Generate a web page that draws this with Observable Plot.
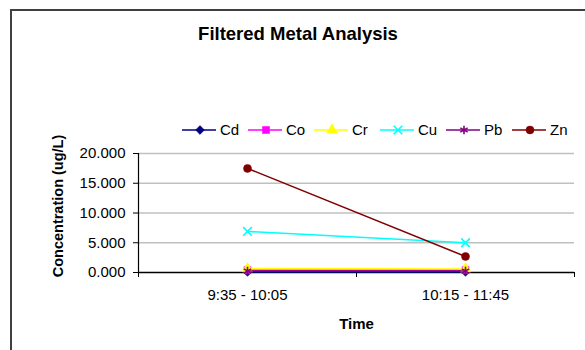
<!DOCTYPE html>
<html>
<head>
<meta charset="utf-8">
<script src="https://cdn.jsdelivr.net/npm/d3@7"></script>
<script src="https://cdn.jsdelivr.net/npm/@observablehq/plot@0.6"></script>
<style>
  html, body { margin: 0; padding: 0; background: #fff; overflow: hidden; }
  #wrap { position: relative; width: 585px; height: 350px; font-family: "Liberation Sans", Arial, sans-serif; }
  #frame { position: absolute; left: 10px; top: 9px; width: 700px; height: 500px; border: 2px solid #404040; box-sizing: border-box; }
  #title { position: absolute; left: 0; width: 596px; top: 23px; text-align: center; font-weight: bold; font-size: 18.5px; color: #000; }
  #legend { position: absolute; top: 121px; left: 182px; display: flex; font-size: 15px; color: #000; }
  .item { display: flex; align-items: center; width: 66px; }
  .item svg { display: block; }
  #chart { position: absolute; left: 0; top: 0; }
</style>
</head>
<body>
<div id="wrap">
  <div id="frame"></div>
  <div id="chart"></div>
  <div id="title">Filtered Metal Analysis</div>
  <div id="legend"></div>
</div>
<script>
const categories = ["9:35 - 10:05", "10:15 - 11:45"];
const metals = ["Cd", "Co", "Cr", "Cu", "Pb", "Zn"];
const Cd = [0.1, 0.1];
const Co = [0.4, 0.4];
const Cr = [0.65, 0.6];
const Cu = [6.9, 5.0];
const Pb = [0.25, 0.25];
const Zn = [17.5, 2.7];
const yTicks = [0, 5, 10, 15, 20];

const seriesValues = {Cd, Co, Cr, Cu, Pb, Zn};
const colors = {Cd: "#000080", Co: "#FF00FF", Cr: "#FFFF00", Cu: "#00FFFF", Pb: "#800080", Zn: "#800000"};
const symbols = {Cd: "diamond2", Co: "square", Cr: "triangle", Cu: "times", Pb: "asterisk", Zn: "circle"};
const filled = {Cd: true, Co: true, Cr: true, Cu: false, Pb: false, Zn: true};
const d3sym = {diamond2: d3.symbolDiamond2, square: d3.symbolSquare, triangle: d3.symbolTriangle, times: d3.symbolTimes, asterisk: d3.symbolAsterisk, circle: d3.symbolCircle};

const data = [];
metals.forEach(m => seriesValues[m].forEach((v, i) => data.push({metal: m, pos: i + 0.5, cat: categories[i], value: v})));

const marks = [
  Plot.ruleY(yTicks.filter(d => d > 0), {stroke: "#c0c0c0", strokeWidth: 1.5}),
  Plot.axisY({ticks: yTicks, tickFormat: d3.format(".3f"), tickSize: 5, tickPadding: 8, fontSize: 15, label: null, stroke: "#000"}),
  Plot.axisX({ticks: d3.range(categories.length + 1), tickSize: 5, tickFormat: () => "", label: null, stroke: "#000"}),
  Plot.axisX({ticks: categories.map((c, i) => i + 0.5), tickSize: 0, tickPadding: 17, tickFormat: d => categories[Math.floor(d)], fontSize: 15, label: null}),
  Plot.ruleX([0], {stroke: "#000", strokeWidth: 1.2}),
  Plot.ruleY([0], {stroke: "#000", strokeWidth: 1.5}),
];
metals.forEach(m => {
  const rows = data.filter(d => d.metal === m);
  marks.push(Plot.line(rows, {x: "pos", y: "value", stroke: colors[m], strokeWidth: 1.6}));
  marks.push(Plot.dot(rows, {x: "pos", y: "value", symbol: () => symbols[m], r: 4,
    fill: filled[m] ? colors[m] : "none", stroke: colors[m], strokeWidth: filled[m] ? 0.5 : 1.6}));
});
marks.push(Plot.text(["Concentration (ug/L)"], {frameAnchor: "left", textAnchor: "middle", lineAnchor: "middle", dx: -80, dy: -7, rotate: -90, fontSize: 14.5, fontWeight: "bold", text: d => d}));
marks.push(Plot.text(["Time"], {frameAnchor: "bottom", lineAnchor: "middle", dy: 52, fontSize: 15, fontWeight: "bold", text: d => d}));

const chart = Plot.plot({
  width: 585,
  height: 350,
  marginLeft: 138,
  marginRight: 11,
  marginTop: 153,
  marginBottom: 78,
  style: {fontFamily: "'Liberation Sans', Arial, sans-serif", color: "#000", background: "transparent", overflow: "visible"},
  x: {type: "linear", domain: [0, categories.length]},
  y: {domain: [0, 20]},
  symbol: {type: "identity"},
  marks
});
document.getElementById("chart").appendChild(chart);

const legend = d3.select("#legend");
metals.forEach(m => {
  const it = legend.append("div").attr("class", "item");
  const svg = it.append("svg").attr("width", 38).attr("height", 16);
  svg.append("line").attr("x1", 0).attr("x2", 34).attr("y1", 8).attr("y2", 8).attr("stroke", colors[m]).attr("stroke-width", 1.6);
  svg.append("path").attr("transform", "translate(18,8)")
    .attr("d", d3.symbol(d3sym[symbols[m]], 50)())
    .attr("fill", filled[m] ? colors[m] : "none").attr("stroke", colors[m]).attr("stroke-width", filled[m] ? 0.5 : 1.6);
  it.append("span").text(m);
});
</script>
</body>
</html>
